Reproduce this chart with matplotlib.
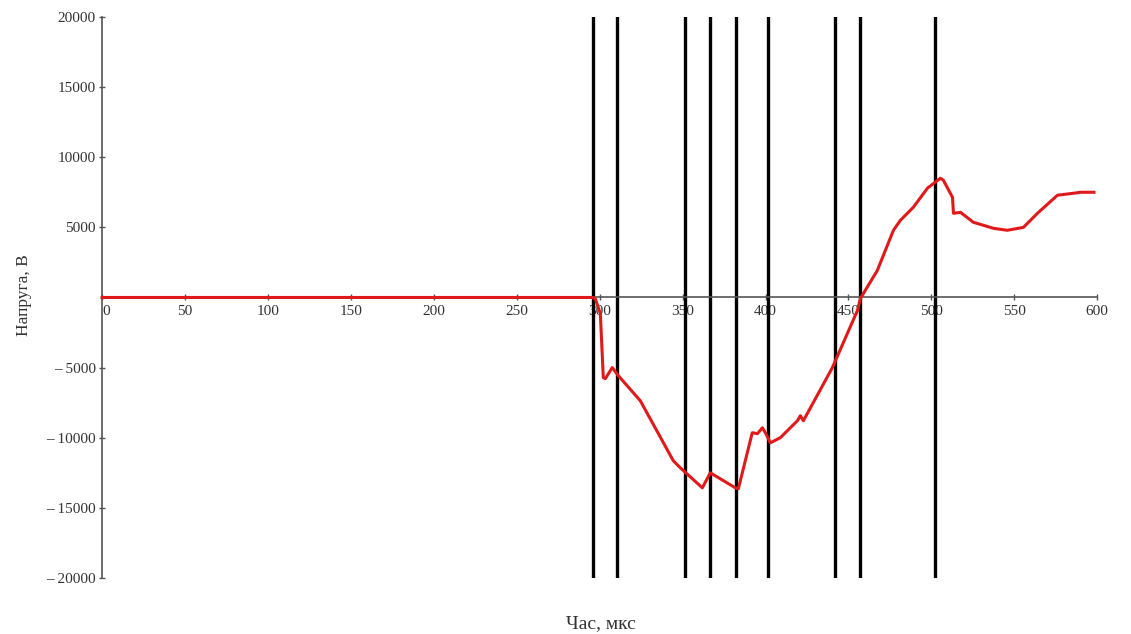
import numpy as np
import matplotlib.pyplot as plt

plt.rcParams['font.family'] = ['Liberation Serif', 'DejaVu Serif']

# voltage waveform, time in microseconds, voltage in volts
time_us = [0, 295.5, 297.3, 300.4, 302.2, 303.4, 307.6, 311.2, 324.5, 344.4,
           348.6, 361.9, 366.7, 381.8, 383.6, 392.0, 395.1, 398.1, 399.9, 402.9,
           408.9, 419.2, 421.0, 422.8, 440.3, 455.4, 457.2, 467.4, 477.1, 481.3,
           489.1, 497.6, 505.4, 507.2, 512.7, 513.3, 517.5, 525.3, 537.4, 545.8,
           555.5, 563.9, 576.0, 585.6, 589.9, 598.0]
voltage_v = [0, 0, -70, -1140, -5710, -5790, -5000, -5570, -7360, -11640,
             -12140, -13570, -12500, -13570, -13640, -9640, -9710, -9290, -9640, -10360,
             -10000, -8790, -8430, -8790, -5000, -930, -70, 1930, 4790, 5500,
             6430, 7790, 8500, 8360, 7140, 6000, 6070, 5360, 4930, 4790,
             5000, 6000, 7290, 7430, 7500, 7500]

# switching instants
markers_us = [296.1, 310.6, 351.6, 366.7, 382.4, 401.7, 442.1, 457.2, 502.4]

x_ticks = [0, 50, 100, 150, 200, 250, 300, 350, 400, 450, 500, 550, 600]
y_ticks = [-20000, -15000, -10000, -5000, 5000, 10000, 15000, 20000]

fig = plt.figure(figsize=(11.31, 6.34), dpi=100)
ax = fig.add_axes([0.0902, 0.0883, 0.880, 0.885])
ax.set_xlim(0, 600)
ax.set_ylim(-20000, 20000)

for xm in markers_us:
    ax.plot([xm, xm], [-20000, 20000], color='black', lw=2.4, zorder=2)

ax.plot(time_us, voltage_v, color='#e01a1a', lw=2.2, zorder=3, clip_on=False)

# axes cross at the origin
for side in ['top', 'right']:
    ax.spines[side].set_visible(False)
ax.spines['left'].set_position(('data', 0))
ax.spines['bottom'].set_position(('data', 0))
ax.spines['left'].set_color('#555555')
ax.spines['bottom'].set_color('#555555')
ax.spines['left'].set_linewidth(1.2)
ax.spines['bottom'].set_linewidth(1.2)

ax.set_xticks(x_ticks)
ax.set_xticklabels([str(v) for v in x_ticks])
ax.set_yticks(y_ticks)
ax.set_yticklabels([('\u2013 %d' % -v) if v < 0 else str(v) for v in y_ticks])
ax.tick_params(axis='both', direction='inout', length=5, width=1,
               color='#555555', labelsize=11, labelcolor='#333333', pad=2)
ax.tick_params(axis='x', pad=3)
ax.get_xticklabels()[0].set_horizontalalignment('left')

fig.text(0.021, 0.535, 'Напруга, В', rotation=90, ha='center', va='center',
         fontsize=12.5, color='#333333')
fig.text(0.531, 0.016, 'Час, мкс', ha='center', va='center',
         fontsize=14, color='#333333')

fig.savefig('out.png', dpi=100)
